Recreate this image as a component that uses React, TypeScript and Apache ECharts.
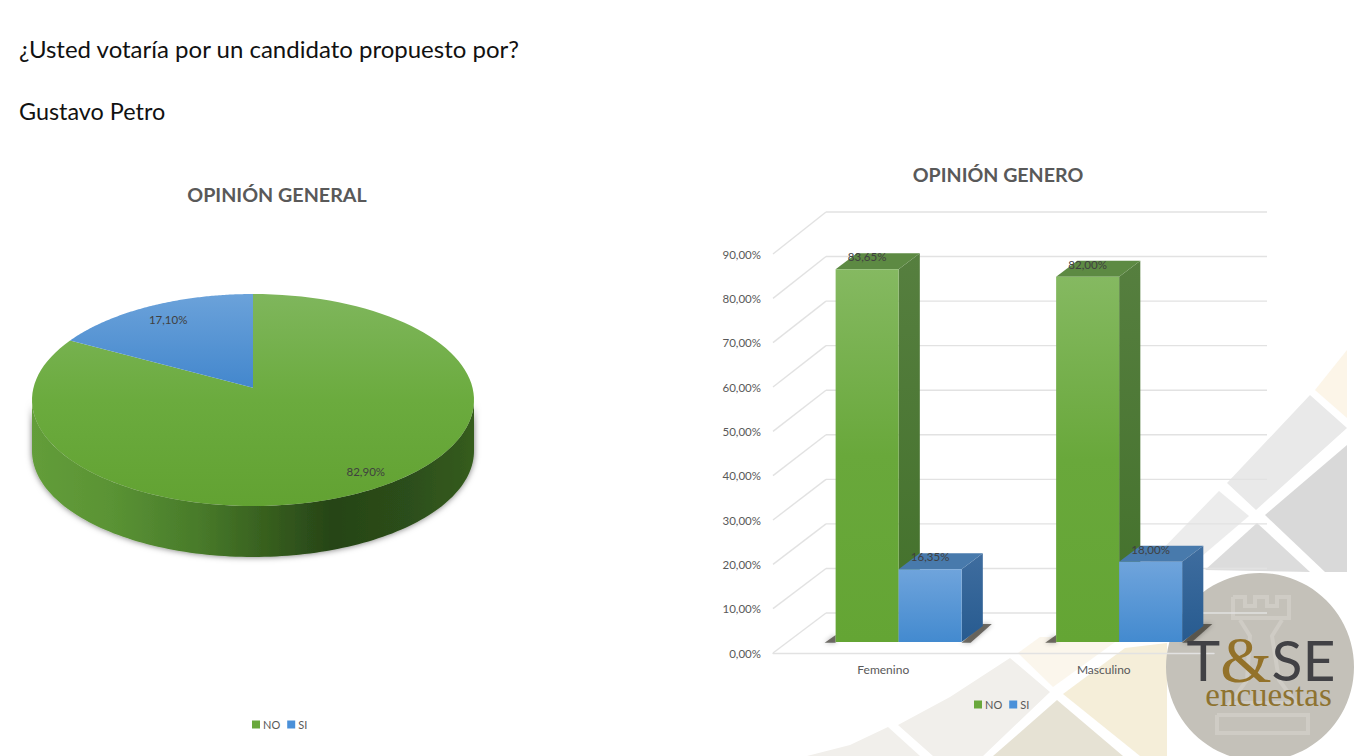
import React, { useEffect, useRef } from "react";
import * as echarts from "echarts";

const headingLines = ["¿Usted votaría por un candidato propuesto por?", "Gustavo Petro"];
const pieTitle = "OPINIÓN GENERAL";
const barTitle = "OPINIÓN GENERO";
const seriesNames = ["NO", "SI"];
const pieShares = [82.9, 17.1];
const pieLabels = ["82,90%", "17,10%"];
const genderCategories = ["Femenino", "Masculino"];
const noValues = [83.65, 82.0];
const siValues = [16.35, 18.0];
const noLabels = ["83,65%", "82,00%"];
const siLabels = ["16,35%", "18,00%"];
const wallTicks = [0, 10, 20, 30, 40, 50, 60, 70, 80, 90];

const FONT = "Lato, Carlito, 'Open Sans', sans-serif";
const SERIF = "'Liberation Serif', serif";
const TEXT = "#595959";

// pie projection
const CX = 253, CY = 400, RX = 221, RY = 106, DEPTH = 51, PERSP = 0.89;
const project = (share: number) => {
  const t = (share / 100) * Math.PI * 2;
  const half = t / 2;
  const c = Math.cos(half);
  return Math.abs(c) < 1e-9 ? t : 2 * Math.atan2(PERSP * Math.sin(half), c);
};
const rimPoint = (phi: number, r = 1, dy = 0): number[] => [
  CX + RX * r * Math.sin(phi),
  CY - RY * r * Math.cos(phi) + dy,
];
const apex = () => {
  const e = (1 - PERSP * PERSP) / (1 + PERSP * PERSP);
  return [CX, CY - RY * e];
};
const arcPoints = (fromShare: number, toShare: number) => {
  const pts: number[][] = [];
  const n = 120;
  let a = project(fromShare);
  let b = project(toShare);
  if (a < 0) a += Math.PI * 2;
  if (b <= 0) b += Math.PI * 2;
  if (b < a) b += Math.PI * 2;
  for (let i = 0; i <= n; i++) pts.push(rimPoint(a + ((b - a) * i) / n));
  return pts;
};
const vGrad = (stops: string[]) => ({
  type: "linear", x: 0, y: 0, x2: 0, y2: 1,
  colorStops: stops.map((color, i) => ({ offset: i / (stops.length - 1), color })),
});
const sideGrad = {
  type: "linear", x: 0, y: 0, x2: 1, y2: 0,
  colorStops: [
    { offset: 0, color: "#639d3a" },
    { offset: 0.18, color: "#5a9334" },
    { offset: 0.38, color: "#487a2a" },
    { offset: 0.52, color: "#38611f" },
    { offset: 0.68, color: "#264417" },
    { offset: 0.85, color: "#2c4e1a" },
    { offset: 1, color: "#355c1e" },
  ],
};
const pieRender = (idx: number) => (_p: any, api: any) => {
  const value = api.value(0);
  const start = pieShares.slice(0, idx).reduce((a, b) => a + b, 0);
  const end = start + value;
  const [ax, ay] = apex();
  const children: any[] = [];
  if (idx === 0) {
    const lower: number[][] = [];
    const upper: number[][] = [];
    for (let i = 0; i <= 120; i++) {
      const phi = Math.PI / 2 + (Math.PI * i) / 120;
      upper.push(rimPoint(phi));
      lower.push(rimPoint(phi, 1, DEPTH));
    }
    children.push({
      type: "polygon",
      shape: { points: [...upper, ...lower.reverse()] },
      style: { fill: sideGrad, shadowBlur: 6, shadowColor: "rgba(0,0,0,0.55)" },
    });
  }
  children.push({
    type: "polygon",
    shape: { points: [[ax, ay], ...arcPoints(start, end)] },
    style: {
      fill: idx === 0 ? vGrad(["#7fb65c", "#6bab3e", "#62a232"]) : vGrad(["#6ba2da", "#4387cd"]),
    },
  });
  const mid = rimPoint(project((start + end) / 2), 0.84);
  children.push({
    type: "text",
    z2: 10,
    style: {
      text: pieLabels[idx], x: mid[0] + (idx === 0 ? 8 : 1), y: mid[1] - 2,
      align: "center", verticalAlign: "middle", fill: "#404040", fontSize: 11.5, fontFamily: FONT,
    },
  });
  return { type: "group", children };
};

// 3D bar projection
const WALL_DX = 53, WALL_DY = 40, BAR_FRONT = 0.275, BAR_DEPTH = 0.4, YK = 401 / 399, BAR_FRAC = 0.2857, BAR_SHIFT = 0.8;
const scaled = (api: any, v: number) => {
  const y0 = api.coord([0, 0])[1];
  return y0 - YK * (y0 - api.coord([0, v])[1]);
};
const wallRender = (_p: any, api: any) => {
  const v = api.value(1);
  const y = scaled(api, v);
  const left = api.coord([0, v])[0] - api.size([1, 0])[0] / 2;
  const right = left + api.size([1, 0])[0] * 2;
  const lineStyle = { stroke: "#e2e2e2", lineWidth: 1.4 };
  const yFront = api.coord([0, v])[1];
  return {
    type: "group",
    children: [
      { type: "line", shape: { x1: left, y1: yFront, x2: left + WALL_DX, y2: y - WALL_DY }, style: lineStyle },
      { type: "line", shape: { x1: left + WALL_DX, y1: y - WALL_DY, x2: right + WALL_DX, y2: y - WALL_DY }, style: lineStyle },
    ],
  };
};
const barRender = (seriesIdx: number, labels: string[], face: string[], side: string[], top: string) => (_p: any, api: any) => {
  const i = api.value(0);
  const v = api.value(1);
  const band = api.size([1, 0])[0];
  const cx = api.coord([i, 0])[0];
  const y0 = api.coord([i, 0])[1];
  const w = band * BAR_FRAC;
  const groupX = cx + WALL_DX * BAR_FRONT - w + seriesIdx * w + BAR_SHIFT;
  const base = y0 - WALL_DY * BAR_FRONT;
  const h = y0 - scaled(api, v);
  const topY = base - h;
  const dx = WALL_DX * BAR_DEPTH;
  const dy = WALL_DY * BAR_DEPTH;
  const children: any[] = [];
  if (seriesIdx === 0) {
    const rightEnd = groupX + 2 * w;
    children.push({
      type: "polygon",
      shape: {
        points: [
          [groupX - 11, base + 0.8], [groupX, base - 7], [groupX, base + 0.8], [rightEnd, base + 0.8],
          [rightEnd + dx, base - dy - 2], [rightEnd + dx + 9, base - dy - 2], [rightEnd + 9, base + 0.8],
        ],
      },
      style: { fill: "rgba(58,54,48,0.7)", shadowBlur: 5, shadowColor: "rgba(0,0,0,0.45)" },
    });
  }
  children.push(
    {
      type: "polygon",
      shape: { points: [[groupX + w, topY], [groupX + w + dx, topY - dy], [groupX + w + dx, base - dy], [groupX + w, base]] },
      style: { fill: vGrad(side) },
    },
    {
      type: "polygon",
      shape: { points: [[groupX, topY], [groupX + dx, topY - dy], [groupX + w + dx, topY - dy], [groupX + w, topY]] },
      style: { fill: top },
    },
    { type: "rect", shape: { x: groupX, y: topY, width: w, height: h }, style: { fill: vGrad(face) } },
    {
      type: "text",
      z2: 10,
      style: {
        text: labels[i], x: groupX + w / 2, y: topY - 12.5, align: "center", verticalAlign: "middle",
        fill: "#404040", fontSize: 11.5, fontFamily: FONT,
      },
    }
  );
  return { type: "group", children };
};

const poly = (points: number[][], fill: string, z = 0) => ({ type: "polygon", z, shape: { points }, style: { fill } });
const outline = (points: number[][]) => ({
  type: "polyline", z: 1, shape: { points }, style: { stroke: "#cfccc5", lineWidth: 4, fill: "none" },
});

const watermark = [
  poly([[1347, 350], [1315, 390], [1347, 418]], "#fcf5e8"),
  poly([[1310, 395], [1347, 428], [1256, 510], [1227, 483]], "#e9e9e9"),
  poly([[1347, 445], [1265, 515], [1325, 572], [1347, 572]], "#d9d9d9"),
  poly([[1219, 491], [1249, 516], [1195, 562], [1150, 562]], "#ececec"),
  poly([[1257, 523], [1310, 572], [1205, 570]], "#dcdcdc"),
  poly([[1018, 653], [1053, 687], [1122, 637], [1040, 637]], "#fbf6ec"),
  poly([[1063, 694], [1125, 648], [1167, 643], [1167, 756], [1140, 756]], "#f5eed9"),
  poly([[1010, 658], [1050, 692], [983, 756], [933, 756], [898, 725], [950, 697]], "#f1efeb"),
  poly([[888, 727], [920, 756], [807, 756], [850, 745]], "#f1efeb"),
  poly([[1057, 700], [1123, 756], [993, 756]], "#e6e2d4"),
];
const logo = [
  { type: "circle", z: 0, shape: { cx: 1260, cy: 667, r: 94 }, style: { fill: "#c4c1b9" } },
  outline([[1233, 597], [1233, 618], [1289, 618], [1289, 597], [1277, 597], [1277, 606], [1267, 606], [1267, 597], [1255, 597], [1255, 606], [1245, 606], [1245, 597], [1233, 597]]),
  outline([[1240, 620], [1250, 636], [1247, 680], [1230, 703], [1296, 703], [1279, 680], [1272, 636], [1282, 620]]),
  outline([[1217, 715], [1308, 715], [1308, 733], [1217, 733], [1217, 715]]),
  {
    type: "text", z: 50, x: 1261, y: 659,
    style: {
      text: "{a|T}{b|&}{a|SE}", align: "center", verticalAlign: "middle",
      rich: {
        a: { fontFamily: FONT, fontSize: 57, fontWeight: 400, lineHeight: 44, fill: "#414145", color: "#414145" },
        b: { fontFamily: SERIF, fontSize: 66, fontWeight: 400, lineHeight: 44, fill: "#93722a", color: "#93722a" },
      },
    },
  },
  {
    type: "text", z: 50, x: 1268.5, y: 695,
    style: { text: "encuestas", align: "center", verticalAlign: "middle", fontFamily: SERIF, fontSize: 33, lineHeight: 24, fill: "#8e7330" },
  },
];

const legendFor = (left: number, top: number) => ({
  left, top, icon: "rect", itemWidth: 8, itemHeight: 8, itemGap: 7,
  textStyle: { color: TEXT, fontSize: 11, fontFamily: FONT, padding: [0, 0, 0, -2] },
  data: seriesNames.map((name) => ({ name })),
});
const NO_COLOR = "#69a83b";
const SI_COLOR = "#4a90d9";
const titleText = (color: string, size: number, weight: any) => ({ color, fontSize: size, fontWeight: weight, fontFamily: FONT });

export default function App() {
  const ref = useRef<HTMLDivElement>(null);
  useEffect(() => {
    const chart = echarts.init(ref.current!, undefined, { renderer: "svg" });
    chart.setOption({
      animation: false,
      backgroundColor: "#ffffff",
      title: [
        { text: headingLines[0], left: 19, top: 36, padding: 0, textStyle: titleText("#111111", 24, 400) },
        { text: headingLines[1], left: 19, top: 99, padding: 0, textStyle: titleText("#111111", 23.4, 400) },
        { text: pieTitle, left: 277, top: 184, padding: 0, textAlign: "center", textStyle: titleText(TEXT, 19.7, 700) },
        { text: barTitle, left: 998, top: 164, padding: 0, textAlign: "center", textStyle: titleText(TEXT, 19.6, 700) },
      ],
      legend: [legendFor(247, 714), legendFor(969, 694)],
      grid: { left: 773, width: 441, top: 254, height: 399, containLabel: false },
      xAxis: {
        type: "category",
        data: genderCategories,
        axisTick: { show: false },
        axisLine: { lineStyle: { color: "#e2e2e2", width: 1.4 } },
        axisLabel: { color: TEXT, fontSize: 12, fontFamily: FONT, margin: 10 },
      },
      yAxis: {
        type: "value", min: 0, max: 90, interval: 10,
        splitLine: { show: false },
        axisLine: { show: false },
        axisTick: { show: false },
        axisLabel: {
          color: TEXT, fontSize: 11.5, fontFamily: FONT, margin: 12,
          formatter: (v: number) => v.toFixed(2).replace(".", ",") + "%",
        },
      },
      graphic: { elements: [...watermark, ...logo] },
      series: [
        {
          type: "custom", name: "walls", silent: true, z: 1, coordinateSystem: "cartesian2d",
          data: wallTicks.map((v) => [0, v]), encode: { x: 0, y: 1 }, renderItem: wallRender,
        },
        {
          type: "custom", name: seriesNames[0], coordinateSystem: "none", itemStyle: { color: NO_COLOR },
          data: [[pieShares[0]]], renderItem: pieRender(0),
        },
        {
          type: "custom", name: seriesNames[1], coordinateSystem: "none", itemStyle: { color: SI_COLOR },
          data: [[pieShares[1]]], renderItem: pieRender(1),
        },
        {
          type: "custom", name: seriesNames[0], coordinateSystem: "cartesian2d", itemStyle: { color: NO_COLOR },
          data: noValues.map((v, i) => [i, v]), encode: { x: 0, y: 1 },
          renderItem: barRender(0, noLabels, ["#85b961", "#69a83b", "#64a534"], ["#567f3f", "#42702a"], "#5d8a43"),
        },
        {
          type: "custom", name: seriesNames[1], coordinateSystem: "cartesian2d", itemStyle: { color: SI_COLOR },
          data: siValues.map((v, i) => [i, v]), encode: { x: 0, y: 1 },
          renderItem: barRender(1, siLabels, ["#6fa4dc", "#438acf"], ["#3f6d9f", "#275b90"], "#487aac"),
        },
      ],
    });
    return () => chart.dispose();
  }, []);
  return (
    <div
      ref={ref}
      style={{ position: "absolute", left: 0, top: 0, width: 1356, height: 756 }}
    />
  );
}
